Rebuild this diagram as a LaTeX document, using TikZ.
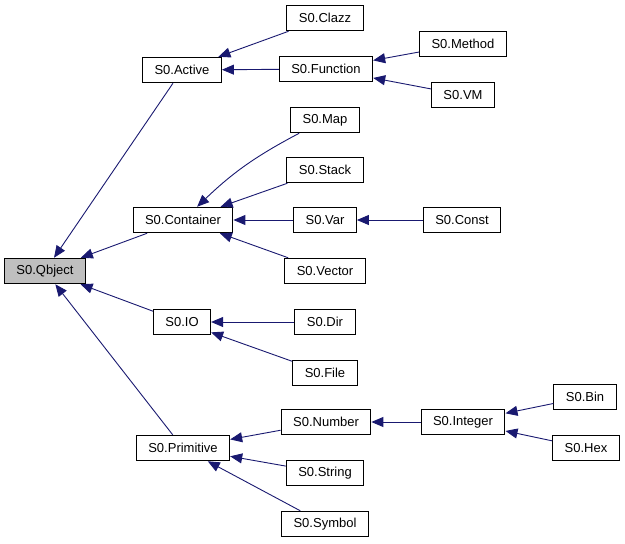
\documentclass[tikz,border=0pt]{standalone}
\usepackage{fontspec}
\setmainfont{Liberation Sans}
\usetikzlibrary{positioning,arrows.meta}
\definecolor{edge}{HTML}{191970}
\definecolor{rootgray}{HTML}{BFBFBF}
\tikzset{
  classbox/.style={
    draw=black, line width=1pt, fill=white,
    inner xsep=12pt, inner ysep=0pt, minimum height=25.5pt,
    font=\fontsize{13}{15}\selectfont},
  rootbox/.style={classbox, fill=rootgray},
  inherit/.style={draw=edge, line width=0.9pt, -{Triangle[length=12pt,width=10pt]}},
}

\begin{document}
\begin{tikzpicture}[x=1pt, y=-1pt]
  \useasboundingbox (0,0) rectangle (625,544);

  \node[rootbox]  (qbject)    at (45,271)  {S0.Qbject};

  \node[classbox] (active)    at (182,70)  {S0.Active};
  \node[classbox] (container) at (183,220) {S0.Container};
  \node[classbox] (io)        at (182,322) {S0.IO};
  \node[classbox] (primitive) at (183,448) {S0.Primitive};

  \node[classbox] (clazz)     at (325,18)  {S0.Clazz};
  \node[classbox] (function)  at (326,69)  {S0.Function};
  \node[classbox] (map)       at (325,120) {S0.Map};
  \node[classbox] (stack)     at (325,170) {S0.Stack};
  \node[classbox] (var)       at (325,220) {S0.Var};
  \node[classbox] (vector)    at (325,271) {S0.Vector};
  \node[classbox] (dir)       at (325,322) {S0.Dir};
  \node[classbox] (file)      at (325,373) {S0.File};
  \node[classbox] (number)    at (326,422) {S0.Number};
  \node[classbox] (string)    at (325,473) {S0.String};
  \node[classbox] (symbol)    at (325,524) {S0.Symbol};

  \node[classbox] (method)    at (463,44)  {S0.Method};
  \node[classbox] (vm)        at (463,95)  {S0.VM};
  \node[classbox] (const)     at (462,220) {S0.Const};
  \node[classbox] (integer)   at (463,422) {S0.Integer};

  \node[classbox] (bin)       at (585,397) {S0.Bin};
  \node[classbox] (hex)       at (586,448) {S0.Hex};

  \draw[inherit] (active) -- (qbject);
  \draw[inherit] (container) -- (qbject);
  \draw[inherit] (io) -- (qbject);
  \draw[inherit] (primitive) -- (qbject);

  \draw[inherit] (clazz) -- (active);
  \draw[inherit] (function) -- (active);
  \draw[inherit] (method) -- (function);
  \draw[inherit] (vm) -- (function);

  \draw[inherit] (map) to[bend right=8] (container);
  \draw[inherit] (stack) -- (container);
  \draw[inherit] (var) -- (container);
  \draw[inherit] (vector) -- (container);
  \draw[inherit] (const) -- (var);

  \draw[inherit] (dir) -- (io);
  \draw[inherit] (file) -- (io);

  \draw[inherit] (number) -- (primitive);
  \draw[inherit] (string) -- (primitive);
  \draw[inherit] (symbol) -- (primitive);
  \draw[inherit] (integer) -- (number);
  \draw[inherit] (bin) -- (integer);
  \draw[inherit] (hex) -- (integer);

\end{tikzpicture}
\end{document}
